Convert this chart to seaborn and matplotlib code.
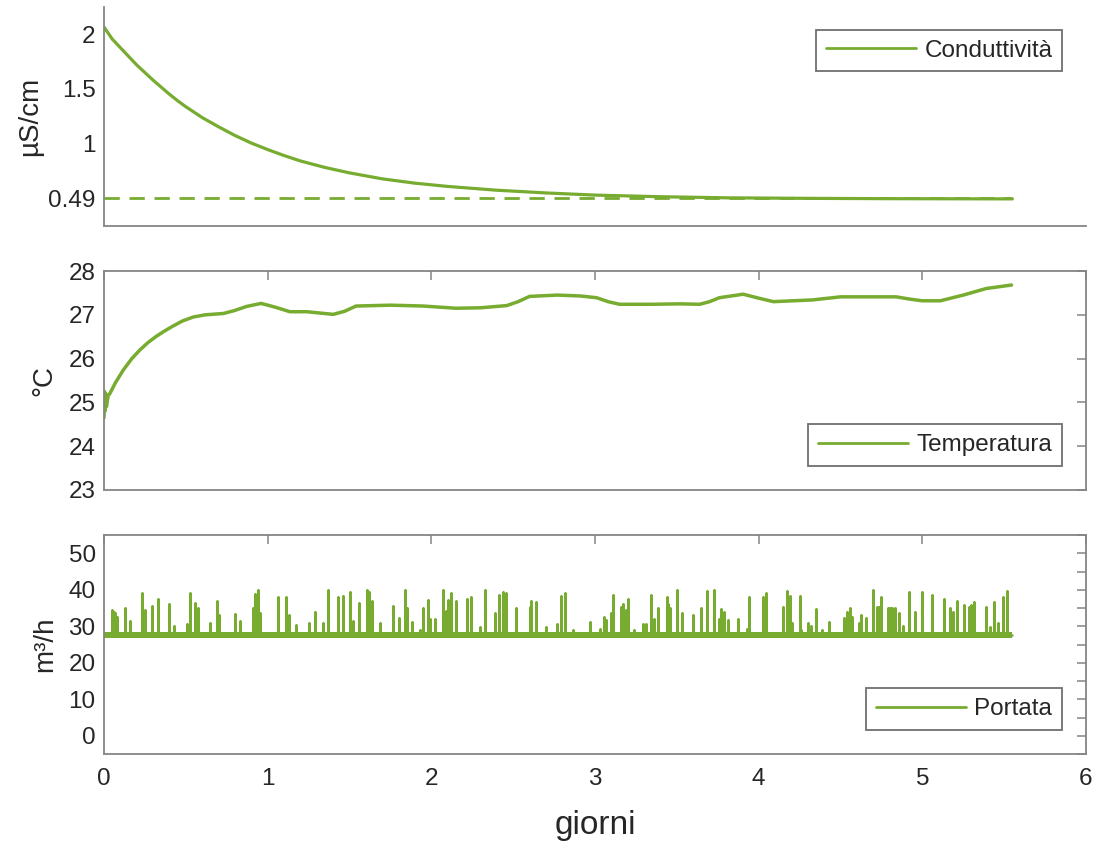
import matplotlib
matplotlib.use("Agg")
import matplotlib.pyplot as plt
import seaborn as sns
from matplotlib.lines import Line2D
from matplotlib.ticker import MultipleLocator

# ---------------- data ----------------
cond_days = [0.0, 0.05, 0.1, 0.15, 0.2, 0.25, 0.3, 0.35, 0.4, 0.45, 0.5, 0.55, 0.6, 0.7, 0.8,
             0.9, 1.0, 1.1, 1.2, 1.35, 1.5, 1.7, 1.9, 2.1, 2.4, 2.7, 3.0, 3.4, 3.8, 4.3, 4.8, 5.55]
cond_vals = [2.07, 1.96, 1.88, 1.80, 1.72, 1.65, 1.58, 1.515, 1.45, 1.39, 1.335, 1.285, 1.235,
             1.15, 1.07, 1.0, 0.94, 0.885, 0.835, 0.775, 0.725, 0.67, 0.63, 0.60, 0.565, 0.54,
             0.52, 0.505, 0.495, 0.49, 0.487, 0.485]
cond_ref_days = [0.0, 5.55]
cond_ref_vals = [0.49, 0.49]

temp_days = [0.0, 0.003, 0.006, 0.01, 0.015, 0.025, 0.037, 0.07, 0.118, 0.17, 0.22, 0.27, 0.32,
             0.37, 0.42, 0.48, 0.546, 0.62, 0.73, 0.80, 0.87, 0.96, 1.05, 1.136, 1.24, 1.32,
             1.40, 1.47, 1.54, 1.75, 1.95, 2.15, 2.30, 2.46, 2.53, 2.60, 2.77, 2.91, 3.01,
             3.08, 3.15, 3.35, 3.52, 3.64, 3.70, 3.76, 3.905, 4.0, 4.09, 4.33, 4.50, 4.84,
             4.92, 5.00, 5.11, 5.25, 5.39, 5.545]
temp_vals = [24.65, 25.25, 24.8, 25.2, 24.9, 25.15, 25.21, 25.45, 25.74, 26.0, 26.2, 26.37, 26.51,
             26.63, 26.74, 26.86, 26.95, 27.0, 27.03, 27.1, 27.19, 27.26, 27.17, 27.07, 27.07, 27.04,
             27.01, 27.08, 27.2, 27.22, 27.2, 27.15, 27.16, 27.21, 27.3, 27.42, 27.45, 27.43, 27.39,
             27.3, 27.24, 27.24, 27.25, 27.24, 27.3, 27.39, 27.47, 27.38, 27.30, 27.34, 27.41, 27.41,
             27.36, 27.32, 27.32, 27.45, 27.6, 27.68]

portata_base = 27.6
portata_band = [26.8, 28.4]
portata_span = [0.0, 5.55]
spike_days = [0.05, 0.06, 0.07, 0.08, 0.128, 0.16, 0.23, 0.25, 0.295, 0.33, 0.40, 0.43, 0.505,
              0.525, 0.556, 0.575, 0.65, 0.69, 0.70, 0.80, 0.83, 0.91, 0.925, 0.943, 0.955,
              1.065, 1.115, 1.13, 1.175, 1.25, 1.29, 1.34, 1.37, 1.43, 1.46, 1.50, 1.52, 1.56,
              1.605, 1.62, 1.635, 1.686, 1.767, 1.80, 1.84, 1.85, 1.88, 1.93, 1.95, 1.98, 1.99,
              2.02, 2.07, 2.09, 2.10, 2.12, 2.15, 2.215, 2.24, 2.297, 2.33, 2.39, 2.415, 2.44,
              2.455, 2.52, 2.60, 2.61, 2.64, 2.70, 2.77, 2.79, 2.815, 2.867, 2.97, 3.03, 3.055,
              3.07, 3.095, 3.107, 3.16, 3.17, 3.187, 3.20, 3.24, 3.295, 3.31, 3.345, 3.36, 3.386,
              3.437, 3.447, 3.457, 3.50, 3.53, 3.60, 3.65, 3.685, 3.73, 3.76, 3.77, 3.79, 3.814,
              3.875, 3.926, 3.94, 4.028, 4.045, 4.146, 4.175, 4.19, 4.205, 4.25, 4.26, 4.30,
              4.32, 4.35, 4.39, 4.43, 4.52, 4.537, 4.557, 4.572, 4.61, 4.625, 4.655, 4.70, 4.724,
              4.735, 4.75, 4.79, 4.80, 4.815, 4.83, 4.86, 4.883, 4.92, 4.954, 4.995, 5.06, 5.13,
              5.17, 5.185, 5.21, 5.256, 5.284, 5.295, 5.317, 5.39, 5.415, 5.44, 5.46, 5.49, 5.515]
spike_vals = [34.5, 34, 33.5, 32.5, 35, 31.5, 39, 34.5, 35.5, 37.5, 36, 30, 30.6,
              39, 36.5, 35, 31, 37, 33, 33.3, 31.5, 35, 38.7, 39.8, 33.5,
              38, 38, 33, 30.3, 31, 34, 31, 39.8, 38, 38.3, 39.3, 31.5, 36.5,
              40, 39.3, 36.8, 31, 35.5, 32.3, 40, 35, 31.3, 29, 35, 37.1, 32,
              32, 40, 34.3, 37.3, 39.1, 37, 37.6, 38, 29.7, 40, 33.5, 38.5, 39.4,
              39.2, 35, 35.4, 37, 36.6, 29.7, 30.6, 38.3, 39.2, 28.9, 31.3, 29.2, 32.5,
              31.8, 33.5, 38.5, 35.2, 36, 34.5, 37.6, 29, 30.6, 30.6, 38.5, 32, 35,
              37.9, 36, 35, 40, 33.7, 33, 35, 39.6, 40, 32, 34.6, 34, 31.6,
              32, 29.2, 38, 38, 39, 35.4, 39.6, 38.3, 31, 38.3, 29, 31,
              30, 34.6, 29, 31.3, 32.2, 34, 35, 32.6, 31, 33, 32.2, 40, 35.4,
              35.4, 38, 35, 35, 35, 35, 33.7, 30, 39.4, 34, 39.4, 38.5, 37.5,
              35, 34, 36.8, 35.9, 35.4, 35.9, 36.7, 35.3, 29.8, 36.7, 31, 38, 39.6]

x_ticks = [0, 1, 2, 3, 4, 5, 6]
cond_ticks = [0.49, 1, 1.5, 2]
cond_ticklabels = ["0.49", "1", "1.5", "2"]
temp_ticks = [23, 24, 25, 26, 27, 28]
port_ticks = [0, 10, 20, 30, 40, 50]

# ---------------- style ----------------
sns.set_theme(style="white")
plt.rcParams["font.family"] = ["Liberation Sans", "DejaVu Sans"]

GREEN = "#77AC30"
AXC = "#858585"
TXT = "#262626"
FS = 17.5
FS_YL = 20

fig = plt.figure(figsize=(10.94, 8.52), dpi=100)
W, H = 1094.0, 852.0
L, Wd, Ht = 104 / W, 982 / W, 219 / H
ax1 = fig.add_axes([L, 1 - 226 / H, Wd, Ht])
ax2 = fig.add_axes([L, 1 - 490 / H, Wd, Ht])
ax3 = fig.add_axes([L, 1 - 754 / H, Wd, Ht])

# build portata series from baseline + spikes
p_x = [portata_span[0]]
p_y = [portata_base]
for d, v in zip(spike_days, spike_vals):
    p_x += [d, d, d]
    p_y += [portata_base, v, portata_base]
p_x.append(portata_span[1])
p_y.append(portata_base)

# --- panel 1 ---
sns.lineplot(x=cond_ref_days, y=cond_ref_vals, ax=ax1, color=GREEN, lw=2.0,
             linestyle=(0, (5.5, 3.5)), estimator=None, sort=False)
sns.lineplot(x=cond_days, y=cond_vals, ax=ax1, color=GREEN, lw=2.3, estimator=None, sort=False)
ax1.set_ylim(0.235, 2.255)
ax1.set_yticks(cond_ticks)
ax1.set_yticklabels(cond_ticklabels)
ax1.set_xticklabels([])
ax1.set_ylabel("µS/cm")

# --- panel 2 ---
sns.lineplot(x=temp_days, y=temp_vals, ax=ax2, color=GREEN, lw=2.5, estimator=None, sort=False)
ax2.set_ylim(23, 28)
ax2.set_yticks(temp_ticks)
ax2.set_ylabel("°C")

# --- panel 3 ---
ax3.fill_between(portata_span, [portata_band[0]] * 2, [portata_band[1]] * 2,
                 color=GREEN, lw=0)
sns.lineplot(x=p_x, y=p_y, ax=ax3, color=GREEN, lw=1.8, estimator=None, sort=False)
ax3.set_ylim(-5, 55)
ax3.set_yticks(port_ticks)
ax3.yaxis.set_minor_locator(MultipleLocator(5))
ax3.set_ylabel("m³/h")
ax3.set_xlabel("giorni", fontsize=24, color=TXT)
ax3.xaxis.set_label_coords(0.5, -0.255)

for ax in (ax1, ax2, ax3):
    ax.set_xlim(0, 6)
    ax.set_xticks(x_ticks)
    ax.set_facecolor("white")
    for s in ax.spines.values():
        s.set_color(AXC)
        s.set_linewidth(1.3)
    ax.tick_params(axis="both", which="both", direction="in", length=6.5, width=1.1,
                   color=AXC, labelcolor=TXT, labelsize=FS)
    ax.tick_params(axis="y", pad=6)
    ax.tick_params(axis="x", pad=10)
    ax.yaxis.label.set_size(FS_YL)
    ax.yaxis.label.set_color(TXT)

ax1.spines["top"].set_visible(False)
ax1.spines["right"].set_visible(False)
for ax in (ax2, ax3):
    ax.tick_params(axis="both", which="both", top=True, right=True)
ax2.set_xticklabels([])
ax3.tick_params(axis="y", which="minor", length=6.5)

ax1.yaxis.set_label_coords(-0.062, 0.5)
ax2.yaxis.set_label_coords(-0.047, 0.5)
ax3.yaxis.set_label_coords(-0.047, 0.5)

def add_legend(ax, label, loc, anchor):
    h = [Line2D([0], [0], color=GREEN, lw=2.0)]
    leg = ax.legend(h, [label], loc=loc, bbox_to_anchor=anchor, borderaxespad=0,
                    fontsize=FS, frameon=True, fancybox=False, handlelength=3.7,
                    handletextpad=0.35, borderpad=0.4, labelcolor=TXT)
    fr = leg.get_frame()
    fr.set_edgecolor("#6f6f6f")
    fr.set_linewidth(1.3)
    fr.set_facecolor("white")
    fr.set_alpha(1)
    return leg

add_legend(ax1, "Conduttività", "upper right", (0.9756, 0.895))
add_legend(ax2, "Temperatura", "lower right", (0.9756, 0.11))
add_legend(ax3, "Portata", "lower right", (0.9756, 0.11))

fig.savefig("out.png", dpi=100, facecolor="white")
